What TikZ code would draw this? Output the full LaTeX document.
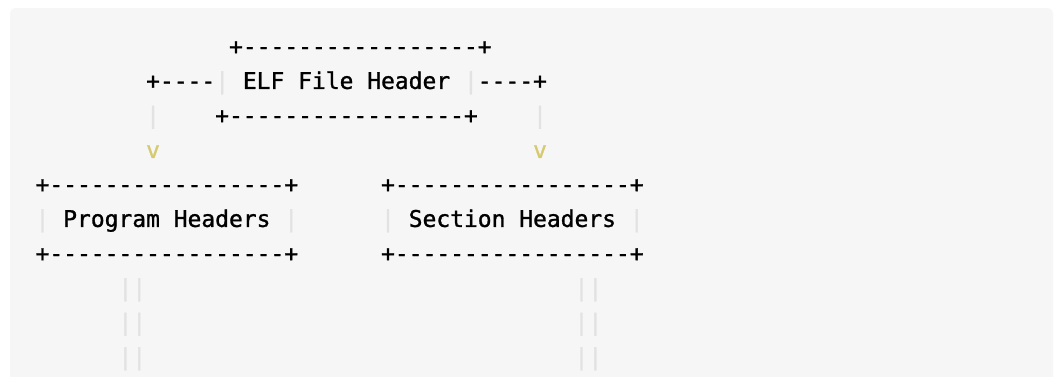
\documentclass[tikz,border=0pt]{standalone}
\usepackage{fontspec}
\setmonofont{DejaVu Sans Mono}[FakeBold=1.2,BoldFeatures={FakeBold=1.2}]
\definecolor{pagebg}{RGB}{255,255,255}
\definecolor{codebg}{RGB}{246,246,246}
\definecolor{pipegray}{RGB}{226,226,226}
\definecolor{vyellow}{RGB}{214,202,112}
\tikzset{
  code/.style={font=\ttfamily\fontsize{22.95}{34.5}\selectfont, inner sep=0pt, outer sep=0pt, anchor=base west, text=black},
  pipe/.style={code, text=pipegray},
  arrowv/.style={code, text=vyellow},
}
\newcommand{\cx}[1]{35.6+#1*13.82}
\newcommand{\ry}[1]{54.4+#1*34.5}
\begin{document}
\begin{tikzpicture}[x=1pt,y=-1pt]
\useasboundingbox (0,0) rectangle (1058,376);
\clip (0,0) rectangle (1058,376);
\fill[pagebg] (0,0) rectangle (1058,376);
\fill[codebg, rounded corners=6pt] (10,8) rectangle (1053,420);
% row 0
\node[code] (elftop) at ({\cx{14}},{\ry{0}}) {+-----------------+};
% row 1
\node[code] (elfl) at ({\cx{8}},{\ry{1}}) {+----};
\node[pipe] (elfpl) at ({\cx{13}},{\ry{1}}) {|};
\node[code] (elftext) at ({\cx{15}},{\ry{1}}) {ELF File Header};
\node[pipe] (elfpr) at ({\cx{31}},{\ry{1}}) {|};
\node[code] (elfr) at ({\cx{32}},{\ry{1}}) {----+};
% row 2
\node[pipe] (dl) at ({\cx{8}},{\ry{2}}) {|};
\node[code] (elfbot) at ({\cx{13}},{\ry{2}}) {+-----------------+};
\node[pipe] (dr) at ({\cx{36}},{\ry{2}}) {|};
% row 3
\node[arrowv] (vl) at ({\cx{8}},{\ry{3}}) {v};
\node[arrowv] (vr) at ({\cx{36}},{\ry{3}}) {v};
% row 4
\node[code] (phtop) at ({\cx{0}},{\ry{4}}) {+-----------------+};
\node[code] (shtop) at ({\cx{25}},{\ry{4}}) {+-----------------+};
% row 5
\node[pipe] (phpl) at ({\cx{0}},{\ry{5}}) {|};
\node[code] (phtext) at ({\cx{2}},{\ry{5}}) {Program Headers};
\node[pipe] (phpr) at ({\cx{18}},{\ry{5}}) {|};
\node[pipe] (shpl) at ({\cx{25}},{\ry{5}}) {|};
\node[code] (shtext) at ({\cx{27}},{\ry{5}}) {Section Headers};
\node[pipe] (shpr) at ({\cx{43}},{\ry{5}}) {|};
% row 6
\node[code] (phbot) at ({\cx{0}},{\ry{6}}) {+-----------------+};
\node[code] (shbot) at ({\cx{25}},{\ry{6}}) {+-----------------+};
% rows 7-9
\foreach \r in {7,8,9}{
  \node[pipe] (pl\r) at ({\cx{6}},{\ry{\r}}) {||};
  \node[pipe] (sl\r) at ({\cx{39}},{\ry{\r}}) {||};
}
\end{tikzpicture}
\end{document}
